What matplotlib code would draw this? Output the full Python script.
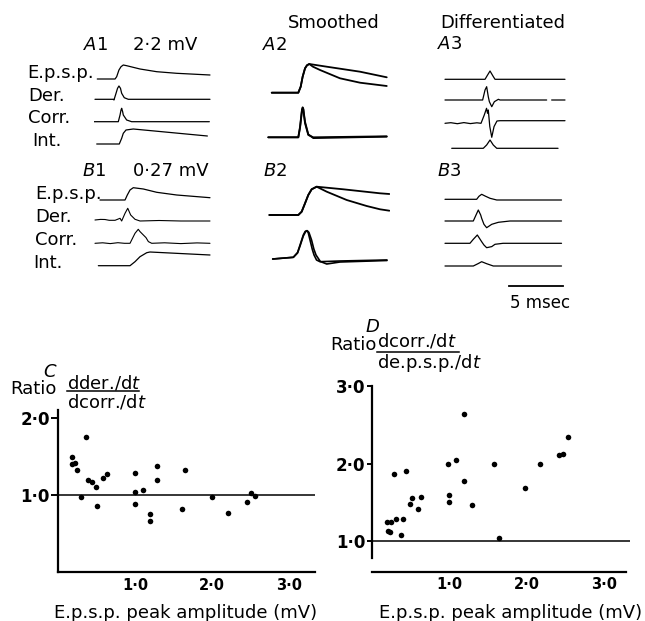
import numpy as np
import matplotlib.pyplot as plt
from matplotlib.lines import Line2D

plt.rcParams['font.family'] = ['DejaVu Sans']
plt.rcParams['mathtext.fontset'] = 'dejavusans'

W, H = 645, 621
MS_PX = 10.85  # pixels per msec on the traces

# ---- traces (time in msec, amplitude in arbitrary units) ----
# A1: 2.2 mV e.p.s.p.
A1_EPSP_T = [0.30, 1.94, 2.09, 2.30, 2.49, 2.70, 3.01, 4.24, 5.78, 7.62, 10.69]
A1_EPSP_V = [0, 0, 2.3, 9.0, 12.3, 14.0, 13.3, 10.0, 7.3, 5.7, 4.0]
A1_DER_T = [0.09, 1.78, 1.84, 2.03, 2.17, 2.30, 2.44, 2.55, 2.79, 3.16, 10.69]
A1_DER_V = [0, 0, -0.7, 6.0, 11.0, 13.3, 11.0, 6.0, 1.6, 0, 0]
A1_CORR_T = [0, 2.24, 2.40, 2.49, 2.55, 2.64, 2.70, 3.01, 3.47, 10.63]
A1_CORR_V = [0, 0, 6.7, 11.7, 13.4, 10.0, 6.7, 1.7, 0, 0]
A1_INT_T = [0.25, 2.33, 2.55, 2.70, 2.95, 3.62, 10.45]
A1_INT_V = [0, 0, 5.7, 10.7, 14.0, 15.0, 8.0]

# B1: 0.27 mV e.p.s.p.
B1_EPSP_T = [0.55, 2.86, 3.07, 3.32, 3.62, 4.55, 5.78, 7.62, 10.69]
B1_EPSP_V = [0, 0, 5.0, 10.0, 12.3, 11.0, 7.7, 5.0, 2.3]
B1_DER_T = [0.09, 0.6, 1.01, 1.4, 1.94, 2.40, 2.55, 2.86, 3.11, 3.38, 3.78, 4.24, 6.0, 8.0, 10.69]
B1_DER_V = [0, 0.6, 0.5, -0.3, -0.3, 1.7, -1.0, 6.7, 11.7, 5.0, 0.7, -1.0, -0.5, -1.0, -1.0]
B1_CORR_T = [0.09, 0.8, 1.5, 2.2, 2.8, 3.32, 3.47, 3.78, 4.08, 4.24, 4.55, 4.79, 5.01, 5.32,
             6.5, 8.0, 9.5, 10.69]
B1_CORR_V = [0, 0.5, -0.3, 0.6, 0, 0, 3.3, 10.0, 14.0, 11.7, 8.3, 5.7, 1.7, 0,
             0.5, -0.3, 0.4, 0]
B1_INT_T = [0.40, 3.32, 3.78, 4.24, 4.86, 5.16, 10.69]
B1_INT_V = [0, 0, 4.0, 9.0, 13.0, 13.7, 10.7]

# A2: smoothed (superimposed)
A2_RISE_T = [0.62, 3.07, 3.29, 3.47, 3.69, 3.87, 4.08]
A2_RISE_V = [0, 0, 6.0, 16.0, 24.4, 27.4, 28.7]
A2_SLOW_T = [5.69, 8.76, 11.22]
A2_SLOW_V = [26.0, 21.0, 15.4]
A2_FAST_T = [4.42, 5.07, 6.91, 8.76, 11.22]
A2_FAST_V = [26.0, 22.7, 14.4, 10.0, 6.7]
A2_DER_T = [0.30, 3.07, 3.23, 3.35, 3.41, 3.47, 3.53, 3.59, 3.69, 3.99, 4.45, 11.22]
A2_DER_V = [0, 0, 10.6, 22.3, 28.0, 30.0, 28.0, 22.3, 14.0, 2.3, 0, 1.0]
A2_DER2_V = [0, 0, 9.5, 21.0, 27.0, 29.0, 28.5, 23.5, 15.5, 3.0, -0.8, 0.6]

# B2: smoothed (superimposed)
B2_RISE_T = [0.40, 3.07, 3.38, 3.69, 3.99, 4.30, 4.76]
B2_RISE_V = [0, 0, 3.3, 11.7, 20.0, 25.7, 28.3]
B2_SLOW_T = [7.22, 10.60, 11.46]
B2_SLOW_V = [25.7, 21.7, 21.0]
B2_FAST_T = [5.69, 7.53, 9.37, 10.60, 11.46]
B2_FAST_V = [23.3, 15.0, 9.0, 5.7, 4.3]
B2_DER_A_T = [0.71, 2.61, 3.0, 3.23, 3.53, 3.70, 3.84, 3.98, 4.15, 4.35, 4.52, 4.75, 5.07, 6.91, 11.24]
B2_DER_A_V = [0, 1.7, 6.5, 14.0, 24.0, 27.5, 28.3, 26.5, 19.0, 10.0, 4.0, -1.0, -2.7, -2.0, -1.0]
B2_DER_B_T = [0.71, 2.61, 3.0, 3.23, 3.53, 3.75, 3.90, 4.05, 4.29, 4.50, 4.70, 5.1, 5.69, 6.91, 11.24]
B2_DER_B_V = [0, 1.7, 6.0, 13.0, 23.0, 27.5, 28.3, 26.5, 19.0, 10.0, 4.0, -2.5, -5.0, -3.0, -1.5]

# A3: differentiated
A3_R1_T = [0.46, 4.15, 4.33, 4.61, 4.88, 5.07, 11.52]
A3_R1_V = [0, 0, 3.3, 8.3, 3.3, 0, 0]
A3_R2_T = [0.46, 3.93, 4.15, 4.30, 4.45, 4.55, 4.77, 5.01, 5.38, 5.53, 9.83, 10.0, 10.29, 11.52]
A3_R2_V = [0, 0, 10.0, 13.3, 3.3, -1.7, -6.7, -1.7, 0.7, 0, 0, np.nan, 0, 0]
A3_R3_T = [0.46, 1.0, 1.6, 2.2, 2.8, 3.4, 3.78, 4.08, 4.29, 4.38, 4.45, 4.59, 4.77, 4.98,
           5.25, 5.53, 11.52]
A3_R3_V = [0, 0.6, -0.4, 0.7, -0.3, 0.5, 0, 8.3, 15.0, 10.0, 13.3, -3.3, -14.0, -3.3,
           2.3, 2.6, 2.6]
A3_R4_T = [1.08, 3.99, 4.30, 4.61, 4.91, 5.23, 10.88]
A3_R4_V = [0, 0, 3.3, 8.3, 3.3, 0, 0]

# B3: differentiated
B3_R1_T = [0.46, 3.38, 3.59, 3.84, 4.15, 4.61, 5.23, 11.2]
B3_R1_V = [0, 0, 3.0, 5.0, 3.3, 1.0, -0.7, -0.7]
B3_R2_T = [0.46, 3.07, 3.32, 3.53, 3.75, 3.84, 4.05, 4.30, 4.77, 5.38, 6.45, 11.2]
B3_R2_V = [0, 0, 6.0, 11.0, 6.0, 2.7, -3.3, -6.7, -3.3, -1.3, 0, 0]
B3_R3_T = [0.46, 2.76, 3.07, 3.44, 3.84, 4.05, 4.30, 4.77, 5.07, 5.81, 11.2]
B3_R3_V = [0, 0, 4.0, 8.3, 1.6, -1.7, -4.4, -3.3, -1.0, 0, 0]
B3_R4_T = [0.46, 3.07, 3.50, 3.84, 4.30, 4.91, 11.2]
B3_R4_V = [0, 0, 2.3, 4.3, 2.3, 0, 0]

# ---- scatter data ----
C_AMP = [0.18, 0.18, 0.22, 0.25, 0.30, 0.36, 0.39, 0.44, 0.49, 0.51, 0.59, 0.64,
         1.0, 1.0, 1.0, 1.10, 1.20, 1.20, 1.29, 1.29, 1.61, 1.65, 2.0, 2.21, 2.45, 2.51, 2.56]
C_RATIO = [1.49, 1.40, 1.41, 1.32, 0.98, 1.75, 1.19, 1.17, 1.10, 0.86, 1.22, 1.27,
           1.29, 1.04, 0.88, 1.06, 0.75, 0.66, 1.38, 1.19, 0.82, 1.33, 0.98, 0.77, 0.91, 1.02, 0.99]
D_AMP = [0.20, 0.21, 0.24, 0.25, 0.29, 0.31, 0.38, 0.40, 0.45, 0.50, 0.52, 0.60, 0.64,
         0.99, 1.0, 1.0, 1.09, 1.19, 1.19, 1.30, 1.58, 1.64, 1.98, 2.18, 2.42, 2.47, 2.53]
D_RATIO = [1.25, 1.13, 1.11, 1.24, 1.87, 1.28, 1.07, 1.28, 1.90, 1.48, 1.56, 1.41, 1.57,
           2.00, 1.60, 1.50, 2.05, 2.64, 1.78, 1.47, 2.00, 1.04, 1.68, 2.00, 2.11, 2.13, 2.34]

X_TICKS = [1.0, 2.0, 3.0]
X_TICK_LABELS = ["1·0", "2·0", "3·0"]
C_Y_TICKS = [1.0, 2.0]
C_Y_TICK_LABELS = ["1·0", "2·0"]
D_Y_TICKS = [1.0, 2.0, 3.0]
D_Y_TICK_LABELS = ["1·0", "2·0", "3·0"]

FS = 13

fig = plt.figure(figsize=(W / 100, H / 100), dpi=100)


def ftext(x, y, s, **kw):
    kw.setdefault("fontsize", FS)
    kw.setdefault("va", "baseline")
    fig.text(x / W, 1 - y / H, s, **kw)


def fline(x0, x1, y, lw=1.1):
    fig.add_artist(Line2D([x0 / W, x1 / W], [1 - y / H, 1 - y / H],
                          transform=fig.transFigure, color="black", lw=lw))


def trace_axes(left, top, w, h):
    ax = fig.add_axes([left / W, 1 - (top + h) / H, w / W, h / H])
    ax.set_xlim(0, w / MS_PX)
    ax.set_ylim(h, 0)
    ax.axis("off")
    return ax


def tr(ax, base, t, v, lw=0.9):
    ax.plot(t, base - np.asarray(v, dtype=float), color="black", lw=lw,
            solid_joinstyle="round", solid_capstyle="round")


# A1
ax = trace_axes(94, 55, 120, 95)
tr(ax, 24, A1_EPSP_T, A1_EPSP_V)
tr(ax, 44.3, A1_DER_T, A1_DER_V)
tr(ax, 66.7, A1_CORR_T, A1_CORR_V)
tr(ax, 89, A1_INT_T, A1_INT_V)

# B1
ax = trace_axes(94, 185, 120, 100)
tr(ax, 15, B1_EPSP_T, B1_EPSP_V)
tr(ax, 35, B1_DER_T, B1_DER_V, lw=0.8)
tr(ax, 58.3, B1_CORR_T, B1_CORR_V, lw=0.8)
tr(ax, 80.7, B1_INT_T, B1_INT_V)

# A2
ax = trace_axes(265, 50, 125, 100)
tr(ax, 42.7, A2_RISE_T + A2_SLOW_T, A2_RISE_V + A2_SLOW_V, lw=1.3)
tr(ax, 42.7, A2_RISE_T + A2_FAST_T, A2_RISE_V + A2_FAST_V, lw=1.3)
tr(ax, 87.3, A2_DER_T, A2_DER_V, lw=1.3)
tr(ax, 87.3, A2_DER_T, A2_DER2_V, lw=1.3)

# B2
ax = trace_axes(265, 180, 125, 110)
tr(ax, 35, B2_RISE_T + B2_SLOW_T, B2_RISE_V + B2_SLOW_V, lw=1.3)
tr(ax, 35, B2_RISE_T + B2_FAST_T, B2_RISE_V + B2_FAST_V, lw=1.3)
tr(ax, 79, B2_DER_A_T, B2_DER_A_V, lw=1.2)
tr(ax, 79, B2_DER_B_T, B2_DER_B_V, lw=1.2)

# A3
ax = trace_axes(440, 60, 130, 95)
tr(ax, 19.3, A3_R1_T, A3_R1_V)
tr(ax, 40, A3_R2_T, A3_R2_V)
tr(ax, 63.3, A3_R3_T, A3_R3_V)
tr(ax, 88.3, A3_R4_T, A3_R4_V)

# B3 (with time scale bar)
ax = trace_axes(440, 185, 130, 125)
tr(ax, 14.3, B3_R1_T, B3_R1_V)
tr(ax, 36, B3_R2_T, B3_R2_V)
tr(ax, 58.3, B3_R3_T, B3_R3_V)
tr(ax, 81, B3_R4_T, B3_R4_V)
ax.plot([6.36, 11.36], [101, 101], color="black", lw=1.3)
ax.text(6.45, 123, "5 msec", fontsize=12, va="baseline", ha="left")

# top labels
ftext(288, 28, "Smoothed")
ftext(440, 28, "Differentiated")
ftext(83, 50, r"$A$1")
ftext(133, 50, "2·2 mV")
ftext(262, 50, r"$A$2")
ftext(437, 49, r"$A$3")
ftext(82, 176, r"$B$1")
ftext(133, 176, "0·27 mV")
ftext(263, 176, r"$B$2")
ftext(437, 176, r"$B$3")

for (x, y, s) in [(27, 78, "E.p.s.p."), (28, 101, "Der."), (28, 123, "Corr."), (32, 146, "Int."),
                  (35, 199, "E.p.s.p."), (35, 221.5, "Der."), (35, 245, "Corr."), (33, 268, "Int.")]:
    ftext(x, y, s)


def style_scatter(ax, yticks, ylabels, ticklen):
    ax.spines["top"].set_visible(False)
    ax.spines["right"].set_visible(False)
    for sp in ("left", "bottom"):
        ax.spines[sp].set_linewidth(1.6)
    ax.set_xticks(X_TICKS)
    ax.set_xticklabels(X_TICK_LABELS, fontsize=10.5, fontweight="bold")
    ax.set_yticks(yticks)
    ax.set_yticklabels(ylabels, fontsize=12, fontweight="bold")
    ax.tick_params(axis="x", length=0, pad=4)
    ax.tick_params(axis="y", length=ticklen, width=1.4, pad=1)
    ax.set_facecolor("none")


# C
axC = fig.add_axes([58 / W, (H - 572) / H, 3.35 * 77 / W, 2.1 * 77 / H])
axC.scatter(C_AMP, C_RATIO, s=16, color="black", zorder=3, linewidths=0)
axC.hlines(1.0, 0, 3.34, color="black", lw=1.1)
axC.set_xlim(0, 3.35)
axC.set_ylim(0, 2.1)
axC.spines["bottom"].set_bounds(0, 3.34)
style_scatter(axC, C_Y_TICKS, C_Y_TICK_LABELS, 5)

# D
axD = fig.add_axes([371.5 / W, (H - 571.7) / H, 3.35 * 77.5 / W, 2.4 * 77.2 / H])
axD.scatter(D_AMP, D_RATIO, s=16, color="black", zorder=3, linewidths=0)
axD.hlines(1.0, 0, 3.34, color="black", lw=1.1)
axD.set_xlim(0, 3.35)
axD.set_ylim(0.6, 3.0)
axD.spines["left"].set_bounds(0.775, 3.0)
axD.spines["bottom"].set_bounds(0, 3.29)
style_scatter(axD, D_Y_TICKS, D_Y_TICK_LABELS, 3.5)

# C / D labels
ftext(43, 377, r"$C$")
ftext(10, 394, "Ratio")
ftext(67, 388, r"dder./d$t$")
fline(66.7, 139.3, 390.7)
ftext(67, 407.5, r"dcorr./d$t$")
ftext(186, 618, "E.p.s.p. peak amplitude (mV)", ha="center")

ftext(365, 332, r"$D$")
ftext(330, 350.5, "Ratio")
ftext(377, 347, r"dcorr./d$t$")
fline(377, 459, 352.3)
ftext(377, 368, r"de.p.s.p./d$t$")
ftext(511, 618, "E.p.s.p. peak amplitude (mV)", ha="center")

fig.savefig("out.png", dpi=100)
